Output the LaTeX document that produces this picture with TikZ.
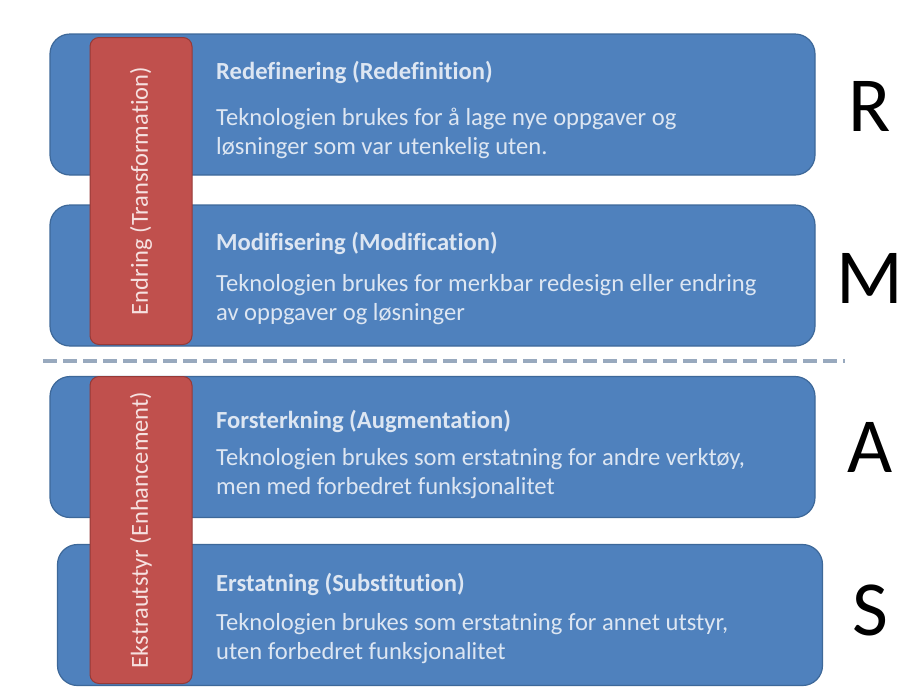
\documentclass[tikz,border=0pt]{standalone}
\usepackage{fontspec}
\setmainfont{Carlito}[Ligatures=NoCommon]
\usetikzlibrary{positioning}
\definecolor{boxblue}{HTML}{4F81BD}
\definecolor{boxedge}{HTML}{3D6899}
\definecolor{barred}{HTML}{C0504D}
\definecolor{baredge}{HTML}{963A37}
\definecolor{txtblue}{HTML}{DDE6F2}
\definecolor{txtred}{HTML}{F6E1E0}
\definecolor{sepgray}{HTML}{98A9BE}

\begin{document}
\begin{tikzpicture}[x=1pt, y=-1pt, every node/.style={font=\fontsize{24.6}{29}\selectfont}]
% styles
\tikzstyle{level}=[rectangle,draw=boxedge,line width=1.2pt,fill=boxblue,rounded corners=20pt,minimum width=765pt,minimum height=141pt,inner sep=0pt]
\tikzstyle{bar}=[rectangle,draw=baredge,line width=1pt,fill=barred,rounded corners=9pt,rotate=90,minimum width=307pt,minimum height=102pt,text=txtred,font=\fontsize{24.5}{28}\selectfont]
\tikzstyle{desc}=[anchor=west,align=left,inner sep=0pt,text=txtblue]
\tikzstyle{letter}=[font=\fontsize{78}{80}\selectfont]
\tikzstyle{sep}=[draw=sepgray,line width=4pt,dash pattern=on 14pt off 6pt]

\useasboundingbox (0,0) rectangle (912,686);

% levels
\node[level] (boxR) at (432.5,104.5) {};
\node[level] (boxM) at (432.5,275.5) {};
\node[level] (boxA) at (432.5,447) {};
\node[level] (boxS) at (440,615) {};

% dashed separation
\coordinate (sepL) at (43,361);
\coordinate (sepR) at (845,361);
\draw[sep] (sepL) -- (sepR);

% red bars
\node[bar] (barT) at (141,191) {Endring (Transformation)};
\node[bar] (barB) at (141,530) {Ekstrautstyr (Enhancement)};

% texts
\node[desc] (tR) at (216,110) {\textbf{Redefinering (Redefinition)}\\[17pt]
  Teknologien brukes for å lage nye oppgaver og\\løsninger som var utenkelig uten.};
\node[desc] (tM) at (216,278) {\textbf{Modifisering (Modification)}\\[12pt]
  Teknologien brukes for merkbar redesign eller endring\\av oppgaver og løsninger};
\node[desc] (tA) at (216,454) {\textbf{Forsterkning (Augmentation)}\\[8pt]
  Teknologien brukes som erstatning for andre verktøy,\\men med forbedret funksjonalitet};
\node[desc] (tS) at (216,618.5) {\textbf{Erstatning (Substitution)}\\[10pt]
  Teknologien brukes som erstatning for annet utstyr,\\uten forbedret funksjonalitet};

% letters
\node[letter] (lR) at (870,106) {R};
\node[letter] (lM) at (870,278) {M};
\node[letter] (lA) at (870,447) {A};
\node[letter] (lS) at (870,610) {S};

\end{tikzpicture}
\end{document}
